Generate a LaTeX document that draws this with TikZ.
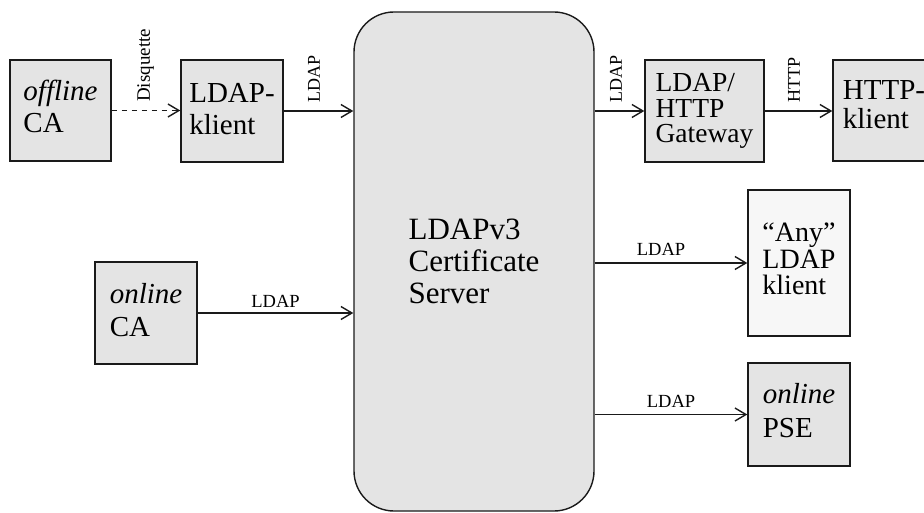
\documentclass[tikz,border=0pt]{standalone}
\usepackage{fontspec}
\setmainfont{Liberation Serif}
\usetikzlibrary{arrows.meta}
\definecolor{boxgray}{HTML}{E4E4E4}
\definecolor{anygray}{HTML}{F7F7F7}
\definecolor{edgecol}{HTML}{1A1A1A}
\newcommand{\dropd}[1]{\rule[-#1pt]{0pt}{#1pt}}
\begin{document}
\begin{tikzpicture}[x=1pt,y=-1pt,
  box/.style={draw=edgecol, line width=1.4pt, fill=boxgray, inner sep=0pt, align=left,
    font=\fontsize{29}{32}\selectfont},
  arr/.style={draw=edgecol, line width=1.4pt,
    -{Straight Barb[length=11pt,width=13pt,line width=1.4pt]}},
  lbl/.style={inner sep=0pt, anchor=base, font=\fontsize{18.5}{20}\selectfont},
  lblv/.style={inner sep=0pt, rotate=90, anchor=base west, font=\fontsize{18}{20}\selectfont},
]
\useasboundingbox (0,0) rectangle (924,513);

% boxes
\node[box, minimum width=101pt, minimum height=101pt] (offca) at (60.5,110.5)
  {\textit{offline}\\CA\dropd{8}};
\node[box, minimum width=102pt, minimum height=102pt] (ldapk) at (232,111)
  {LDAP-\\klient\dropd{5}};
\node[box, rounded corners=40pt, minimum width=240pt, minimum height=499pt,
  font=\fontsize{31}{32}\selectfont] (server) at (474,261.5)
  {LDAPv3\\Certificate\\Server};
\node[box, minimum width=119pt, minimum height=102pt, font=\fontsize{27.5}{25.5}\selectfont]
  (gw) at (704.5,111) {LDAP/\\HTTP\\Gateway\dropd{5}};
\node[box, minimum width=102pt, minimum height=101pt, font=\fontsize{29}{29}\selectfont]
  (httpk) at (884,110.5) {HTTP-\\klient\dropd{11}};
\node[box, fill=anygray, minimum width=102pt, minimum height=146pt,
  font=\fontsize{28}{26.5}\selectfont] (any) at (799,263)
  {“Any”\\LDAP\\klient\dropd{8}};
\node[box, minimum width=102pt, minimum height=103pt, font=\fontsize{29}{34}\selectfont]
  (pse) at (799,414.5) {\textit{online}\\PSE\dropd{9}};
\node[box, minimum width=102pt, minimum height=102pt, font=\fontsize{29}{33}\selectfont]
  (onca) at (146,313) {\textit{online}\\CA\dropd{7}};

% connectors
\draw[arr, dash pattern=on 5pt off 5pt] (offca.east) --
  node[pos=.557, yshift=8pt, lblv, font=\fontsize{19}{20}\selectfont] (ldisk) {Disquette}
  (offca.east -| ldapk.west);
\draw[arr] (ldapk.east) --
  node[pos=.52, yshift=8pt, lblv] (l1) {LDAP}
  (ldapk.east -| server.west);
\draw[arr] (gw.west -| server.east) --
  node[pos=.55, yshift=8pt, lblv] (l2) {LDAP}
  (gw.west);
\draw[arr] (gw.east) --
  node[pos=.52, yshift=8pt, lblv] (l3) {HTTP}
  (gw.east -| httpk.west);
\draw[arr] (onca.east) --
  node[pos=.5, yshift=6pt, lbl] (l4) {LDAP}
  (onca.east -| server.west);
\draw[arr] (any.west -| server.east) --
  node[pos=.435, yshift=7pt, lbl] (l5) {LDAP}
  (any.west);
\draw[arr] (pse.west -| server.east) --
  node[pos=.5, yshift=7pt, lbl] (l6) {LDAP}
  (pse.west);
\end{tikzpicture}
\end{document}
